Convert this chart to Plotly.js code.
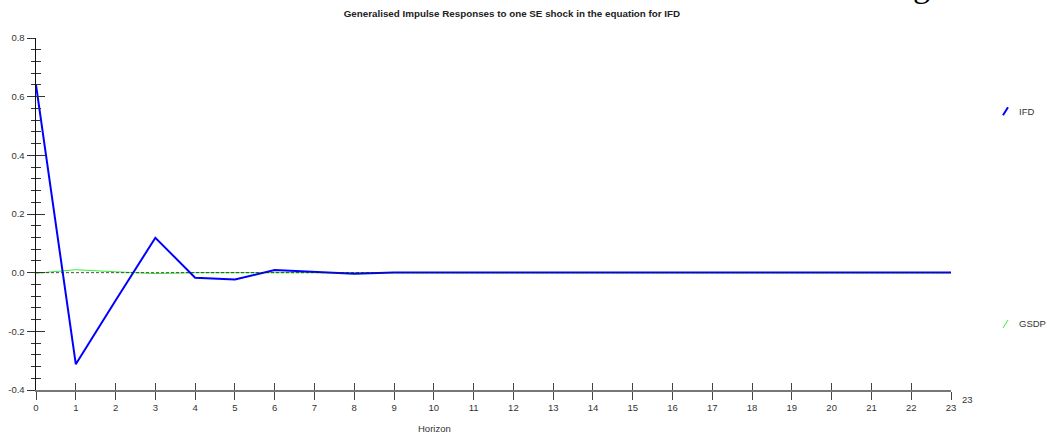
<!DOCTYPE html>
<html>
<head>
<meta charset="utf-8">
<script src="https://cdn.plot.ly/plotly-3.0.1.min.js"></script>
<style>html,body{margin:0;padding:0;background:#fff;}#chart{width:1049px;height:435px;}</style>
</head>
<body>
<div id="chart"></div>
<script>
const horizon = [0,1,2,3,4,5,6,7,8,9,10,11,12,13,14,15,16,17,18,19,20,21,22,23];
const ifd  = [0.64,-0.312,-0.095,0.119,-0.017,-0.023,0.009,0.003,-0.004,0.0005,0.0005,0.0005,0.0005,0.0005,0.0005,0.0005,0.0005,0.0005,0.0005,0.0005,0.0005,0.0005,0.0005,0.0005];
const gsdp = [-0.002,0.010,0.003,-0.003,0.000,0.000,0.000,0.000,0.000,0.000,0.000,0.000,0.000,0.000,0.000,0.000,0.000,0.000,0.000,0.000,0.000,0.000,0.000,0.000];
const zero = horizon.map(() => 0);
const yTickVals = [-0.4,-0.2,0.0,0.2,0.4,0.6,0.8];
const yTickText = ["-0.4","-0.2","0.0","0.2","0.4","0.6","0.8"];
const xTickText = horizon.map(String);
const seriesNames = ["IFD","GSDP"];
const titleText = "Generalised Impulse Responses to one SE shock in the equation for IFD";
const xTitle = "Horizon";

const tickFont = {family:"Liberation Sans, Arial, sans-serif", size:9.5, color:"#333"};

const traces = [
  {x:horizon, y:gsdp, type:"scatter", mode:"lines", line:{color:"#33ee33", width:1}, showlegend:false, hoverinfo:"skip"},
  {x:horizon, y:ifd, type:"scatter", mode:"lines", line:{color:"#0000ff", width:2}, showlegend:false, hoverinfo:"skip"},
  {x:horizon, y:zero, type:"scatter", mode:"lines", line:{color:"#222", width:1, dash:"3px,2px"}, opacity:0.8, showlegend:false, hoverinfo:"skip"},
  {x:horizon, y:zero, xaxis:"x2", yaxis:"y2", type:"scatter", mode:"lines", line:{width:0}, opacity:0, showlegend:false, hoverinfo:"skip"}
];

const layout = {
  width:1049, height:435,
  margin:{l:36, r:98, t:38, b:45},
  paper_bgcolor:"#fff", plot_bgcolor:"#fff",
  showlegend:false,
  title:{text:"<b>"+titleText+"</b>", font:{family:"Liberation Sans, Arial, sans-serif", size:9.8, color:"#222"}, xref:"container", yref:"container", x:0.488, xanchor:"center", y:0.968, yanchor:"middle"},
  xaxis:{range:[0,23], tickvals:horizon, ticktext:xTickText, ticks:"outside", ticklen:8, tickcolor:"#444", tickwidth:1,
         showline:true, linecolor:"#777", linewidth:1.5, showgrid:false, zeroline:false, tickfont:tickFont, fixedrange:true},
  yaxis:{range:[-0.4,0.8], tickvals:yTickVals, ticktext:yTickText, ticks:"outside", ticklen:8, tickcolor:"#333", tickwidth:1,
         minor:{dtick:0.04, tick0:0, ticks:"outside", ticklen:4, tickcolor:"#333", tickwidth:1, showgrid:false},
         showline:true, linecolor:"#111", linewidth:1.5, showgrid:false, zeroline:false, tickfont:tickFont, fixedrange:true},
  xaxis2:{range:[0,23], overlaying:"x", anchor:"y2", side:"bottom", tickvals:horizon, ticks:"inside", ticklen:7, tickcolor:"#444",
          showticklabels:false, showline:false, showgrid:false, zeroline:false, fixedrange:true},
  yaxis2:{range:[-0.4,0.8], overlaying:"y", anchor:"x2", side:"left", tickvals:yTickVals, ticks:"inside", ticklen:9, tickcolor:"#333",
          minor:{dtick:0.04, tick0:0, ticks:"inside", ticklen:5, tickcolor:"#333", tickwidth:1, showgrid:false},
          showticklabels:false, showline:false, showgrid:false, zeroline:false, fixedrange:true},
  annotations:[
    {text:xTitle, xref:"paper", yref:"paper", x:0.436, y:-0.108, xanchor:"center", yanchor:"middle", showarrow:false,
     font:{family:"Liberation Sans, Arial, sans-serif", size:9.5, color:"#333"}},
    {text:"23", xref:"x", yref:"paper", x:23, y:0, xshift:16, yshift:-9, xanchor:"center", yanchor:"middle", showarrow:false,
     font:{family:"Liberation Sans, Arial, sans-serif", size:9.5, color:"#333"}},
    {text:seriesNames[0], xref:"paper", yref:"paper", x:1.072, y:0.79, xanchor:"left", yanchor:"middle", showarrow:false,
     font:{family:"Liberation Sans, Arial, sans-serif", size:9.5, color:"#333"}},
    {text:seriesNames[1], xref:"paper", yref:"paper", x:1.072, y:0.188, xanchor:"left", yanchor:"middle", showarrow:false,
     font:{family:"Liberation Sans, Arial, sans-serif", size:9.5, color:"#333"}},
    {text:"g", xref:"paper", yref:"paper", x:0.968, y:1.09, xanchor:"center", yanchor:"bottom", showarrow:false,
     font:{family:"Liberation Serif, Times New Roman, serif", size:34, color:"#000"}}
  ],
  shapes:[
    {type:"line", xref:"paper", yref:"paper", x0:1.0568, y0:0.7806, x1:1.0623, y1:0.8033, line:{color:"#0000ff", width:2}},
    {type:"line", xref:"paper", yref:"paper", x0:1.0568, y0:0.176, x1:1.0623, y1:0.1987, line:{color:"#33ee33", width:1}}
  ]
};

Plotly.newPlot("chart", traces, layout, {displayModeBar:false, staticPlot:true});
</script>
</body>
</html>
